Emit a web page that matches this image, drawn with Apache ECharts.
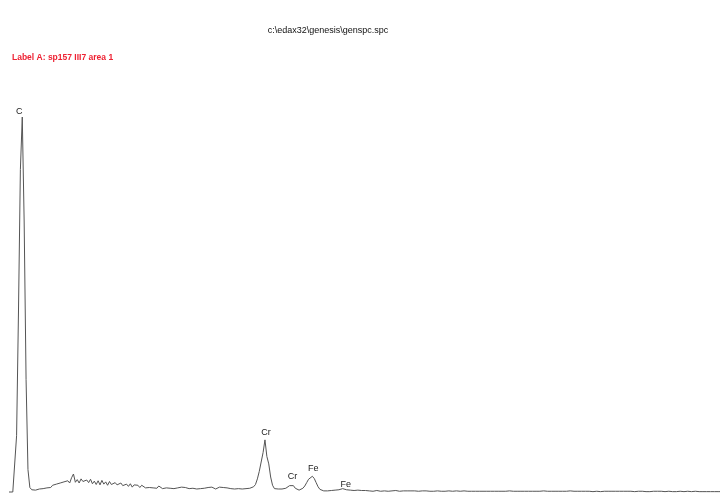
<!DOCTYPE html>
<html>
<head>
<meta charset="utf-8">
<script src="https://cdn.jsdelivr.net/npm/echarts@6/dist/echarts.min.js"></script>
<style>
  html, body { margin: 0; padding: 0; background: #fff; }
  #chart { width: 720px; height: 496px; }
</style>
</head>
<body>
<div id="chart"></div>
<script>
// EDS spectrum: counts per channel, 0.04 keV per channel, 0 - 15 keV
const keVPerChannel = 0.04;
const counts = [
  0, 0, 0, 0, 150, 480, 860, 1000, 720, 300,
  60, 12, 6, 9, 5, 10, 8, 12, 9, 14,
  11, 16, 12, 18, 14, 21, 16, 24, 19, 27,
  22, 30, 24, 38, 48, 26, 33, 24, 35, 28,
  23, 32, 25, 34, 22, 29, 20, 30, 19, 31,
  21, 27, 18, 28, 20, 17, 25, 19, 16, 24,
  17, 14, 21, 15, 22, 13, 19, 14, 18, 12,
  18, 13, 11, 16, 12, 17, 11, 14, 10, 16,
  12, 9, 14, 11, 15, 10, 13, 9, 14, 11,
  10, 13, 8, 12, 14, 9, 12, 10, 13, 8,
  11, 9, 13, 10, 8, 12, 9, 13, 10, 8,
  10, 13, 9, 12, 8, 11, 13, 9, 12, 8,
  10, 9, 12, 8, 11, 9, 12, 10, 12, 14,
  20, 35, 55, 80, 105, 139, 95, 75, 40, 18,
  9, 7, 8, 6, 8, 7, 10, 13, 17, 21,
  17, 10, 6, 5, 7, 10, 16, 25, 34, 39,
  42, 36, 25, 14, 7, 4, 3, 4, 3, 5,
  4, 3, 5, 4, 6, 7, 9, 8, 6, 4,
  5, 3, 4, 3, 5, 3, 4, 2, 4, 3,
  3, 4, 2, 3, 4, 3, 2, 3, 3, 4, 2, 3, 3, 2, 4, 3, 2, 3, 3, 2,
  3, 2, 3, 2, 3, 3, 2, 2, 3, 2, 3, 2, 2, 3, 2, 2, 3, 2, 2, 3,
  2, 2, 3, 2, 2, 2, 3, 2, 2, 2, 3, 2, 2, 2, 2, 3, 2, 2, 2, 2,
  2, 3, 2, 2, 2, 2, 2, 3, 2, 2, 2, 2, 2, 2, 3, 2, 2, 2, 2, 2,
  2, 2, 2, 3, 2, 2, 2, 2, 2, 2, 2, 2, 3, 2, 2, 2, 2, 2, 2, 2,
  2, 2, 2, 2, 2, 2, 3, 2, 2, 2, 2, 1, 2, 2, 2, 2, 2, 2, 1, 2,
  2, 2, 1, 2, 2, 2, 2, 1, 2, 2, 2, 2, 2, 1, 2, 2, 2, 1, 2, 2,
  1, 2, 2, 1, 2, 2, 1, 2, 1, 2, 2, 1, 2, 1, 2, 2, 1, 1, 2, 1,
  1, 2, 1, 1, 2, 1, 1, 1, 2, 1, 1, 1, 2, 1, 1, 1, 1, 2, 1, 1,
  1, 1, 1, 2, 1, 1
];

// Element line markers: symbol and channel of the peak
const peakNames = ['C', 'Cr', 'Cr', 'Fe', 'Fe'];
const peakChannels = [7, 135, 149, 160, 176];
const peakOffsets = [[-3, 2], [1, 0], [1, 0], [1, 0], [3, 3]];

const fileTitle = 'c:\\edax32\\genesis\\genspc.spc';
const labelText = 'Label A: sp157 III7 area 1';

const seriesData = counts.map((c, i) => [i * keVPerChannel, c]);

const chart = echarts.init(document.getElementById('chart'), null, { renderer: 'canvas' });
chart.setOption({
  animation: false,
  backgroundColor: '#ffffff',
  title: [
    {
      text: fileTitle,
      left: 323, top: 21, textAlign: 'center',
      textStyle: { fontFamily: 'Liberation Sans', fontSize: 9, fontWeight: 'normal', color: '#111' }
    },
    {
      text: labelText,
      left: 7, top: 48,
      textStyle: { fontFamily: 'Liberation Sans', fontSize: 8.5, fontWeight: 'bold', color: '#ee2233' }
    }
  ],
  grid: { left: 9, top: 117, width: 715, height: 375, containLabel: false },
  xAxis: {
    type: 'value', min: 0, max: 15,
    show: false
  },
  yAxis: {
    type: 'value', min: 0, max: 1000,
    show: false
  },
  series: [{
    type: 'line',
    data: seriesData,
    showSymbol: false,
    symbol: 'none',
    clip: false,
    lineStyle: { color: '#555', width: 1 },
    markPoint: {
      symbol: 'circle',
      symbolSize: 0,
      label: {
        show: true,
        position: 'top',
        distance: 3,
        fontFamily: 'Liberation Sans',
        fontSize: 9,
        color: '#222',
        formatter: p => p.name
      },
      data: peakNames.map((n, k) => ({
        name: n,
        coord: [peakChannels[k] * keVPerChannel, counts[peakChannels[k]]],
        label: { offset: peakOffsets[k] }
      }))
    }
  }]
});
</script>
</body>
</html>
